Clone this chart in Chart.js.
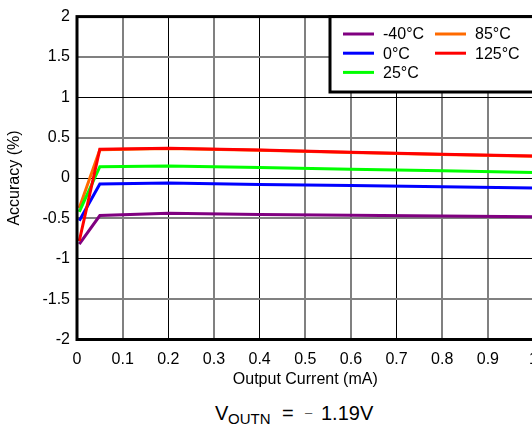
<!DOCTYPE html>
<html><head><meta charset="utf-8">
<script src="https://cdn.jsdelivr.net/npm/chart.js@4"></script>
<style>
html,body{margin:0;padding:0;background:#fff;overflow:hidden;width:532px;height:426px;}
#wrap{position:relative;width:532px;height:426px;overflow:hidden;}
#c{position:absolute;left:0;top:0;}
.cp{position:absolute;font-family:"Liberation Sans",Arial,sans-serif;color:#000;white-space:nowrap;}
#cV{left:215px;top:403px;font-size:20px;line-height:20px;}
#cS{left:228px;top:410.5px;font-size:15px;line-height:15px;}
#cE{left:282px;top:403px;font-size:20px;line-height:20px;}
#cM{left:305px;top:406px;font-size:13px;line-height:13px;color:#555;}
#cN{left:321px;top:403px;font-size:20px;line-height:20px;}
</style></head>
<body><div id="wrap"><canvas id="c" width="548" height="390" style="width:548px;height:390px"></canvas>
<span class="cp" id="cV">V</span><span class="cp" id="cS">OUTN</span><span class="cp" id="cE">=</span><span class="cp" id="cM">–</span><span class="cp" id="cN">1.19V</span></div>
<script>
const xValues = [0.005, 0.05, 0.2, 0.4, 0.6, 0.8, 1.0];
const seriesLabels = ['-40°C', '0°C', '25°C', '85°C', '125°C'];
const seriesColors = ['#800080', '#0000ff', '#00ff00', '#ff6a00', '#ff0000'];
const accM40 = [-0.82, -0.465, -0.437, -0.453, -0.462, -0.471, -0.48];
const acc0 = [-0.53, -0.074, -0.062, -0.079, -0.093, -0.108, -0.123];
const acc25 = [-0.42, 0.14, 0.148, 0.131, 0.11, 0.09, 0.069];
const acc85 = [-0.37, 0.352, 0.365, 0.343, 0.318, 0.293, 0.27];
const acc125 = [-0.78, 0.358, 0.37, 0.346, 0.32, 0.295, 0.272];
const xTickLabels = ['0', '0.1', '0.2', '0.3', '0.4', '0.5', '0.6', '0.7', '0.8', '0.9', '1'];
const yTickLabels = ['-2', '-1.5', '-1', '-0.5', '0', '0.5', '1', '1.5', '2'];
const xTitle = 'Output Current (mA)';
const yTitle = 'Accuracy (%)';

const seriesValues = [accM40, acc0, acc25, acc85, acc125];
const drawOrder = [1, 1, 1, 2, 0];
const FONT = 'Liberation Sans, Arial, sans-serif';

const datasets = seriesValues.map((vals, i) => ({
  label: seriesLabels[i],
  data: vals.map((v, j) => ({x: xValues[j], y: v})),
  borderColor: seriesColors[i],
  backgroundColor: seriesColors[i],
  borderWidth: 3,
  pointRadius: 0,
  tension: 0,
  fill: false,
  order: drawOrder[i]
}));

const frame = {
  id: 'frame',
  afterDatasetsDraw(chart) {
    const a = chart.chartArea, ctx = chart.ctx;
    ctx.save();
    ctx.strokeStyle = '#000';
    ctx.lineWidth = 3;
    ctx.strokeRect(a.left, a.top, a.right - a.left, a.bottom - a.top);
    ctx.restore();
  }
};

const legendBox = {
  id: 'legendBox',
  afterDatasetsDraw(chart) {
    const a = chart.chartArea, ctx = chart.ctx;
    const bx = 330, by = a.top, bw = a.right - bx, bh = 92 - a.top;
    ctx.save();
    ctx.fillStyle = '#fff';
    ctx.fillRect(bx, by, bw, bh);
    ctx.strokeStyle = '#000';
    ctx.lineWidth = 3;
    ctx.strokeRect(bx, by, bw, bh);
    ctx.font = '16px ' + FONT;
    ctx.textBaseline = 'middle';
    ctx.fillStyle = '#000';
    const ds = chart.data.datasets;
    ds.forEach((d, i) => {
      const col = i < 3 ? 0 : 1;
      const row = i < 3 ? i : i - 3;
      const x0 = col === 0 ? 343 : 435;
      const y = 34 + row * 19.2;
      ctx.strokeStyle = d.borderColor;
      ctx.lineWidth = 3;
      ctx.beginPath();
      ctx.moveTo(x0, y);
      ctx.lineTo(x0 + 31, y);
      ctx.stroke();
      ctx.fillText(d.label, x0 + 40, y + 1);
    });
    ctx.restore();
  }
};

const gridX = ctx => ([2, 4, 7].includes(ctx.index) ? '#000' : '#808080');
const gridXW = ctx => ([2, 4, 7].includes(ctx.index) ? 1 : 2);
const gridY = ctx => (ctx.index % 2 === 0 ? '#000' : '#808080');
const gridYW = ctx => (ctx.index % 2 === 0 ? 1 : 2);

new Chart(document.getElementById('c'), {
  type: 'line',
  data: { datasets },
  options: {
    responsive: false,
    animation: false,
    layout: { padding: { left: 0, top: 15, right: 12, bottom: 0 } },
    plugins: { legend: { display: false }, tooltip: { enabled: false } },
    scales: {
      x: {
        type: 'linear', min: 0, max: 1,
        afterFit: s => { s.height = 390 - 339.5; },
        ticks: { stepSize: 0.1, padding: 10, color: '#000', font: { family: FONT, size: 16 },
          maxRotation: 0, autoSkip: false, callback: (v, i) => xTickLabels[i] },
        grid: { drawTicks: false, color: gridX, lineWidth: gridXW },
        border: { display: false },
        title: { display: true, text: xTitle, color: '#000', font: { family: FONT, size: 16 }, padding: { top: 0, bottom: 1 } }
      },
      y: {
        type: 'linear', min: -2, max: 2,
        afterFit: s => { s.width = 77; },
        ticks: { stepSize: 0.5, padding: 7, color: '#000', font: { family: FONT, size: 16 },
          autoSkip: false, callback: (v, i) => yTickLabels[i] },
        grid: { drawTicks: false, color: gridY, lineWidth: gridYW },
        border: { display: false },
        title: { display: true, text: yTitle, color: '#000', font: { family: FONT, size: 16 }, padding: { top: 5, bottom: 0 } }
      }
    }
  },
  plugins: [frame, legendBox]
});
</script>
</body></html>
